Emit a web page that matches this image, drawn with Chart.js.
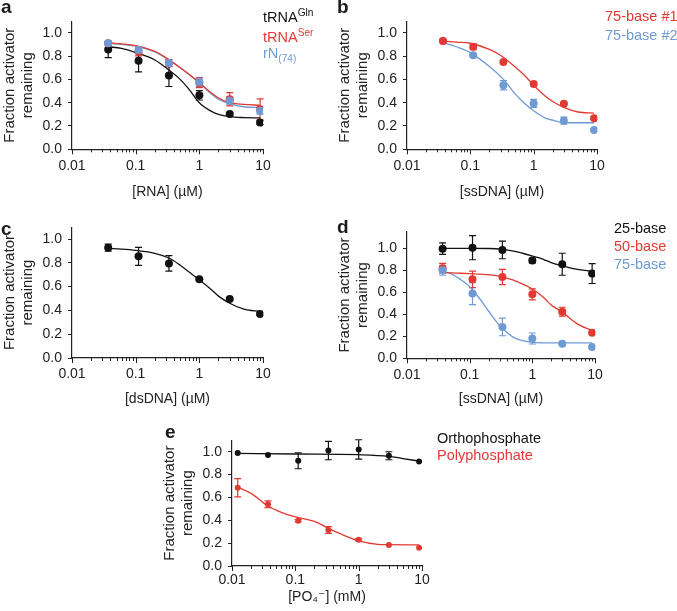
<!DOCTYPE html>
<html>
<head>
<meta charset="utf-8">
<script src="https://cdn.jsdelivr.net/npm/chart.js@4.4.1/dist/chart.umd.min.js"></script>
<style>
  body { margin: 0; background: #fff; }
  #fig { position: relative; width: 677px; height: 611px; overflow: hidden; font-family: 'Liberation Sans', Arial, sans-serif; color: #1a1a1a; }
  #fig canvas { position: absolute; }
  .letter { position: absolute; font-weight: bold; font-size: 19px; line-height: 1; }
  .leg { position: absolute; font-size: 14.5px; line-height: 1; white-space: nowrap; }
  .leg sup, .leg sub { font-size: 70%; line-height: 0; }
</style>
</head>
<body>
<div id="fig">
  <canvas id="pa" width="290" height="203" style="left:0px;top:0px"></canvas>
  <canvas id="pb" width="290" height="203" style="left:335px;top:0px"></canvas>
  <canvas id="pc" width="290" height="204" style="left:0px;top:206px"></canvas>
  <canvas id="pd" width="290" height="199" style="left:335px;top:211px"></canvas>
  <canvas id="pe" width="289" height="190" style="left:160px;top:419px"></canvas>

  <div class="letter" style="left:1px;top:-3px">a</div>
  <div class="letter" style="left:337px;top:-3px">b</div>
  <div class="letter" style="left:1px;top:219px">c</div>
  <div class="letter" style="left:337px;top:217px">d</div>
  <div class="letter" style="left:165px;top:422px">e</div>

  <div class="leg" style="left:263px;top:10px;color:#111">tRNA<sup>Gln</sup></div>
  <div class="leg" style="left:263px;top:30px;color:#e23a33">tRNA<sup>Ser</sup></div>
  <div class="leg" style="left:263px;top:46px;color:#6e9bd4">rN<sub>(74)</sub></div>

  <div class="leg" style="left:605px;top:9px;color:#e23a33">75-base #1</div>
  <div class="leg" style="left:605px;top:28px;color:#6e9bd4">75-base #2</div>

  <div class="leg" style="left:614px;top:221px;color:#111">25-base</div>
  <div class="leg" style="left:614px;top:239px;color:#e23a33">50-base</div>
  <div class="leg" style="left:614px;top:257px;color:#6e9bd4">75-base</div>

  <div class="leg" style="left:437px;top:431px;color:#111">Orthophosphate</div>
  <div class="leg" style="left:437px;top:448px;color:#e23a33">Polyphosphate</div>
</div>
<script>
// concentrations (3-fold dilution series)
const conc = [0.037, 0.111, 0.333, 1, 3, 9];
const concE = [0.0123, 0.037, 0.111, 0.333, 1, 3, 9];

// axis ticks
const yTicks = [0, 0.2, 0.4, 0.6, 0.8, 1.0];
const xMajorTicks = [0.01, 0.1, 1, 10];
const xMinorSteps = [2, 3, 4, 5, 6, 7, 8, 9];

const fitX = [0.037, 0.06, 0.1, 0.2, 0.333, 0.5, 0.7, 1, 1.5, 2, 3, 5, 9];
const fitX75 = [0.037, 0.05, 0.07, 0.1, 0.15, 0.2, 0.3, 0.5, 0.7, 1, 2, 3, 9];
const fitXOrtho = [0.0123, 0.1, 1, 3, 5, 9];
const fitXPoly = [0.0123, 0.02, 0.037, 0.06, 0.1, 0.2, 0.333, 0.5, 1, 2, 3, 9];

// panel a: RNA
const glnY = [0.857, 0.76, 0.634, 0.463, 0.303, 0.229];
const glnErr = [0.07, 0.095, 0.095, 0.04, 0.01, 0.015];
const glnFit = [0.88, 0.865, 0.83, 0.766, 0.68, 0.60, 0.51, 0.40, 0.33, 0.30, 0.28, 0.272, 0.27];
const serY = [0.909, 0.837, 0.74, 0.57, 0.43, 0.343];
const serErr = [0.01, 0.035, 0.03, 0.04, 0.057, 0.09];
const serFit = [0.915, 0.905, 0.89, 0.84, 0.77, 0.70, 0.64, 0.57, 0.49, 0.44, 0.40, 0.385, 0.378];
const rn74Y = [0.91, 0.851, 0.74, 0.577, 0.417, 0.331];
const rn74Err = [0.01, 0.02, 0.03, 0.04, 0.03, 0.03];
const rn74Fit = [0.91, 0.90, 0.885, 0.835, 0.765, 0.70, 0.64, 0.575, 0.48, 0.43, 0.39, 0.365, 0.358];

// panel b: 75-base ssDNA
const b1Y = [0.93, 0.88, 0.75, 0.56, 0.39, 0.266];
const b1Err = [0.01, 0.025, 0.01, 0.01, 0.01, 0.01];
const b1Fit = [0.93, 0.92, 0.91, 0.857, 0.79, 0.71, 0.64, 0.55, 0.46, 0.41, 0.36, 0.32, 0.31];
const b2Y = [0.93, 0.806, 0.55, 0.394, 0.246, 0.166];
const b2Err = [0, 0.01, 0.04, 0.035, 0.03, 0.01];
const b2Fit = [0.915, 0.88, 0.83, 0.71, 0.60, 0.48, 0.40, 0.33, 0.27, 0.25, 0.23, 0.228, 0.228];

// panel c: dsDNA
const dsY = [0.927, 0.854, 0.795, 0.661, 0.496, 0.37];
const dsErr = [0.03, 0.075, 0.065, 0.01, 0.01, 0.01];
const dsFit = [0.92, 0.915, 0.905, 0.88, 0.84, 0.78, 0.72, 0.655, 0.58, 0.52, 0.46, 0.41, 0.39];

// panel d: ssDNA length
const s25Y = [0.997, 1.006, 0.985, 0.888, 0.855, 0.77];
const s25Err = [0.053, 0.11, 0.08, 0.02, 0.1, 0.09];
const s25Fit = [1.0, 1.0, 1.0, 0.998, 0.99, 0.975, 0.955, 0.93, 0.9, 0.87, 0.84, 0.81, 0.79];
const s50Y = [0.818, 0.718, 0.739, 0.582, 0.424, 0.233];
const s50Err = [0.045, 0.075, 0.07, 0.05, 0.04, 0.01];
const s50Fit = [0.78, 0.775, 0.77, 0.76, 0.74, 0.71, 0.675, 0.63, 0.555, 0.485, 0.42, 0.32, 0.25];
const s75Y = [0.80, 0.588, 0.285, 0.18, 0.133, 0.103];
const s75Err = [0.045, 0.1, 0.08, 0.05, 0.01, 0.01];
const s75Fit = [0.79, 0.77, 0.72, 0.65, 0.53, 0.43, 0.30, 0.19, 0.16, 0.145, 0.14, 0.14, 0.14];

// panel e: phosphate
const orthoY = [0.988, 0.971, 0.921, 1.01, 1.02, 0.965, 0.915];
const orthoErr = [0, 0, 0.07, 0.08, 0.085, 0.035, 0];
const orthoFit = [0.985, 0.98, 0.974, 0.96, 0.94, 0.918];
const polyY = [0.685, 0.54, 0.397, 0.315, 0.23, 0.184, 0.16];
const polyErr = [0.08, 0.03, 0.01, 0.03, 0.01, 0, 0];
const polyFit = [0.69, 0.636, 0.525, 0.47, 0.43, 0.39, 0.33, 0.285, 0.22, 0.19, 0.187, 0.184];

const BLACK = '#111111';
const RED = '#e23a33';
const BLUE = '#6e9bd4';
const AXIS = '#222222';
const FONT = "'Liberation Sans', Arial, 'DejaVu Sans', sans-serif";

const xTickValues = [];
[0.01, 0.1, 1].forEach(d => {
  xTickValues.push(d);
  xMinorSteps.forEach(m => xTickValues.push(parseFloat((m * d).toPrecision(3))));
});
xTickValues.push(10);
const isMajor = v => xMajorTicks.some(m => Math.abs(m - v) < 1e-9);

const toPoints = (xs, ys) => xs.map((x, i) => ({ x, y: ys[i] }));

const pts = (xs, ys, errs, color, order, r = 4) => ({
  data: toPoints(xs, ys), errors: errs,
  backgroundColor: color, borderWidth: 0, pointRadius: r, order
});
const fit = (xs, ys, color) => ({
  data: toPoints(xs, ys), showLine: true, borderColor: color, borderWidth: 1.3,
  pointRadius: 0, cubicInterpolationMode: 'monotone', order: 10, clip: false
});

// vertical error bars with caps
const errorBars = {
  id: 'errorBars',
  beforeDatasetsDraw(chart) {
    const { ctx, scales: { x, y } } = chart;
    chart.data.datasets.forEach(ds => {
      if (!ds.errors) return;
      ctx.save();
      ctx.strokeStyle = ds.backgroundColor;
      ctx.lineWidth = 1.2;
      ds.data.forEach((p, i) => {
        const e = ds.errors[i];
        if (!e) return;
        const px = x.getPixelForValue(p.x);
        const top = y.getPixelForValue(p.y + e);
        const bot = y.getPixelForValue(p.y - e);
        ctx.beginPath();
        ctx.moveTo(px, top); ctx.lineTo(px, bot);
        ctx.moveTo(px - 3.5, top); ctx.lineTo(px + 3.5, top);
        ctx.moveTo(px - 3.5, bot); ctx.lineTo(px + 3.5, bot);
        ctx.stroke();
      });
      ctx.restore();
    });
  }
};

// log axis tick marks: long for decades, short for the rest
const logTicks = {
  id: 'logTicks',
  afterDraw(chart) {
    const { ctx, scales: { x } } = chart;
    ctx.save();
    ctx.strokeStyle = AXIS;
    ctx.lineWidth = 1;
    x.ticks.forEach(t => {
      const px = Math.round(x.getPixelForValue(t.value)) + 0.5;
      ctx.beginPath();
      ctx.moveTo(px, x.top);
      ctx.lineTo(px, x.top + (t.major ? 5 : 3));
      ctx.stroke();
    });
    ctx.restore();
  }
};

function panel(id, g, datasets) {
  new Chart(document.getElementById(id), {
    type: 'scatter',
    data: { datasets },
    options: {
      responsive: false,
      animation: false,
      events: [],
      layout: { padding: { top: g.padTop, right: g.padRight, left: 0, bottom: g.padBottom || 0 } },
      plugins: { legend: { display: false }, tooltip: { enabled: false } },
      scales: {
        x: {
          type: 'logarithmic', min: 0.01, max: 10,
          afterFit: s => { s.height = g.xHeight; },
          afterBuildTicks: s => { s.ticks = xTickValues.map(v => ({ value: v, major: isMajor(v) })); },
          grid: { display: false, drawTicks: true, tickLength: 5 },
          border: { display: true, color: AXIS, width: 1.2 },
          ticks: {
            autoSkip: false, maxRotation: 0, minRotation: 0, padding: g.xPad,
            color: AXIS, font: { family: FONT, size: 14 },
            callback: v => isMajor(v) ? String(v) : ''
          },
          title: { display: true, text: g.xTitle, color: AXIS, font: { family: FONT, size: 14 }, padding: { top: 0, bottom: 2 } }
        },
        y: {
          min: 0, max: g.yMax,
          afterFit: s => { s.width = 72; },
          afterBuildTicks: s => { s.ticks = yTicks.map(v => ({ value: v })); },
          grid: { drawOnChartArea: false, tickLength: 4, color: AXIS, tickWidth: 1 },
          border: { display: true, color: AXIS, width: 1.2 },
          ticks: { padding: 6, color: AXIS, font: { family: FONT, size: 14 }, callback: v => v.toFixed(1) },
          title: {
            display: true, text: ['Fraction activator', 'remaining'], color: AXIS,
            font: { family: FONT, size: 15, lineHeight: 1.15 }, padding: { top: 1.5, bottom: 0 }
          }
        }
      }
    },
    plugins: [errorBars, logTicks]
  });
}

panel('pa', { padTop: 21.1, padRight: 27, xHeight: 53.7, yMax: 1.1, xPad: 3, xTitle: '[RNA] (\u00b5M)' }, [
  pts(conc, rn74Y, rn74Err, BLUE, 1),
  pts(conc, serY, serErr, RED, 2),
  pts(conc, glnY, glnErr, BLACK, 3),
  fit(fitX, glnFit, BLACK),
  fit(fitX, serFit, RED),
  fit(fitX, rn74Fit, BLUE)
]);

panel('pb', { padTop: 21.1, padRight: 28, xHeight: 53.7, yMax: 1.1, xPad: 3, xTitle: '[ssDNA] (\u00b5M)' }, [
  pts(conc, b1Y, b1Err, RED, 1),
  pts(conc, b2Y, b2Err, BLUE, 2),
  fit(fitX, b1Fit, RED),
  fit(fitX, b2Fit, BLUE)
]);

panel('pc', { padTop: 21.1, padRight: 27, xHeight: 52, yMax: 1.1, xPad: 3, xTitle: '[dsDNA] (\u00b5M)' }, [
  pts(conc, dsY, dsErr, BLACK, 1),
  fit(fitX, dsFit, BLACK)
]);

panel('pd', { padTop: 20.8, padRight: 30, xHeight: 51.7, yMax: 1.15, xPad: 3, xTitle: '[ssDNA] (\u00b5M)' }, [
  pts(conc, s75Y, s75Err, BLUE, 1),
  pts(conc, s50Y, s50Err, RED, 2),
  pts(conc, s25Y, s25Err, BLACK, 3),
  fit(fitX, s25Fit, BLACK),
  fit(fitX, s50Fit, RED),
  fit(fitX75, s75Fit, BLUE)
]);

panel('pe', { padTop: 21.3, padRight: 27, padBottom: 1, xHeight: 42, yMax: 1.1, xPad: 1, xTitle: '[PO\u2084\u207b] (mM)' }, [
  pts(concE, orthoY, orthoErr, BLACK, 1, 3),
  pts(concE, polyY, polyErr, RED, 2, 3),
  fit(fitXOrtho, orthoFit, BLACK),
  fit(fitXPoly, polyFit, RED)
]);
</script>
</body>
</html>
